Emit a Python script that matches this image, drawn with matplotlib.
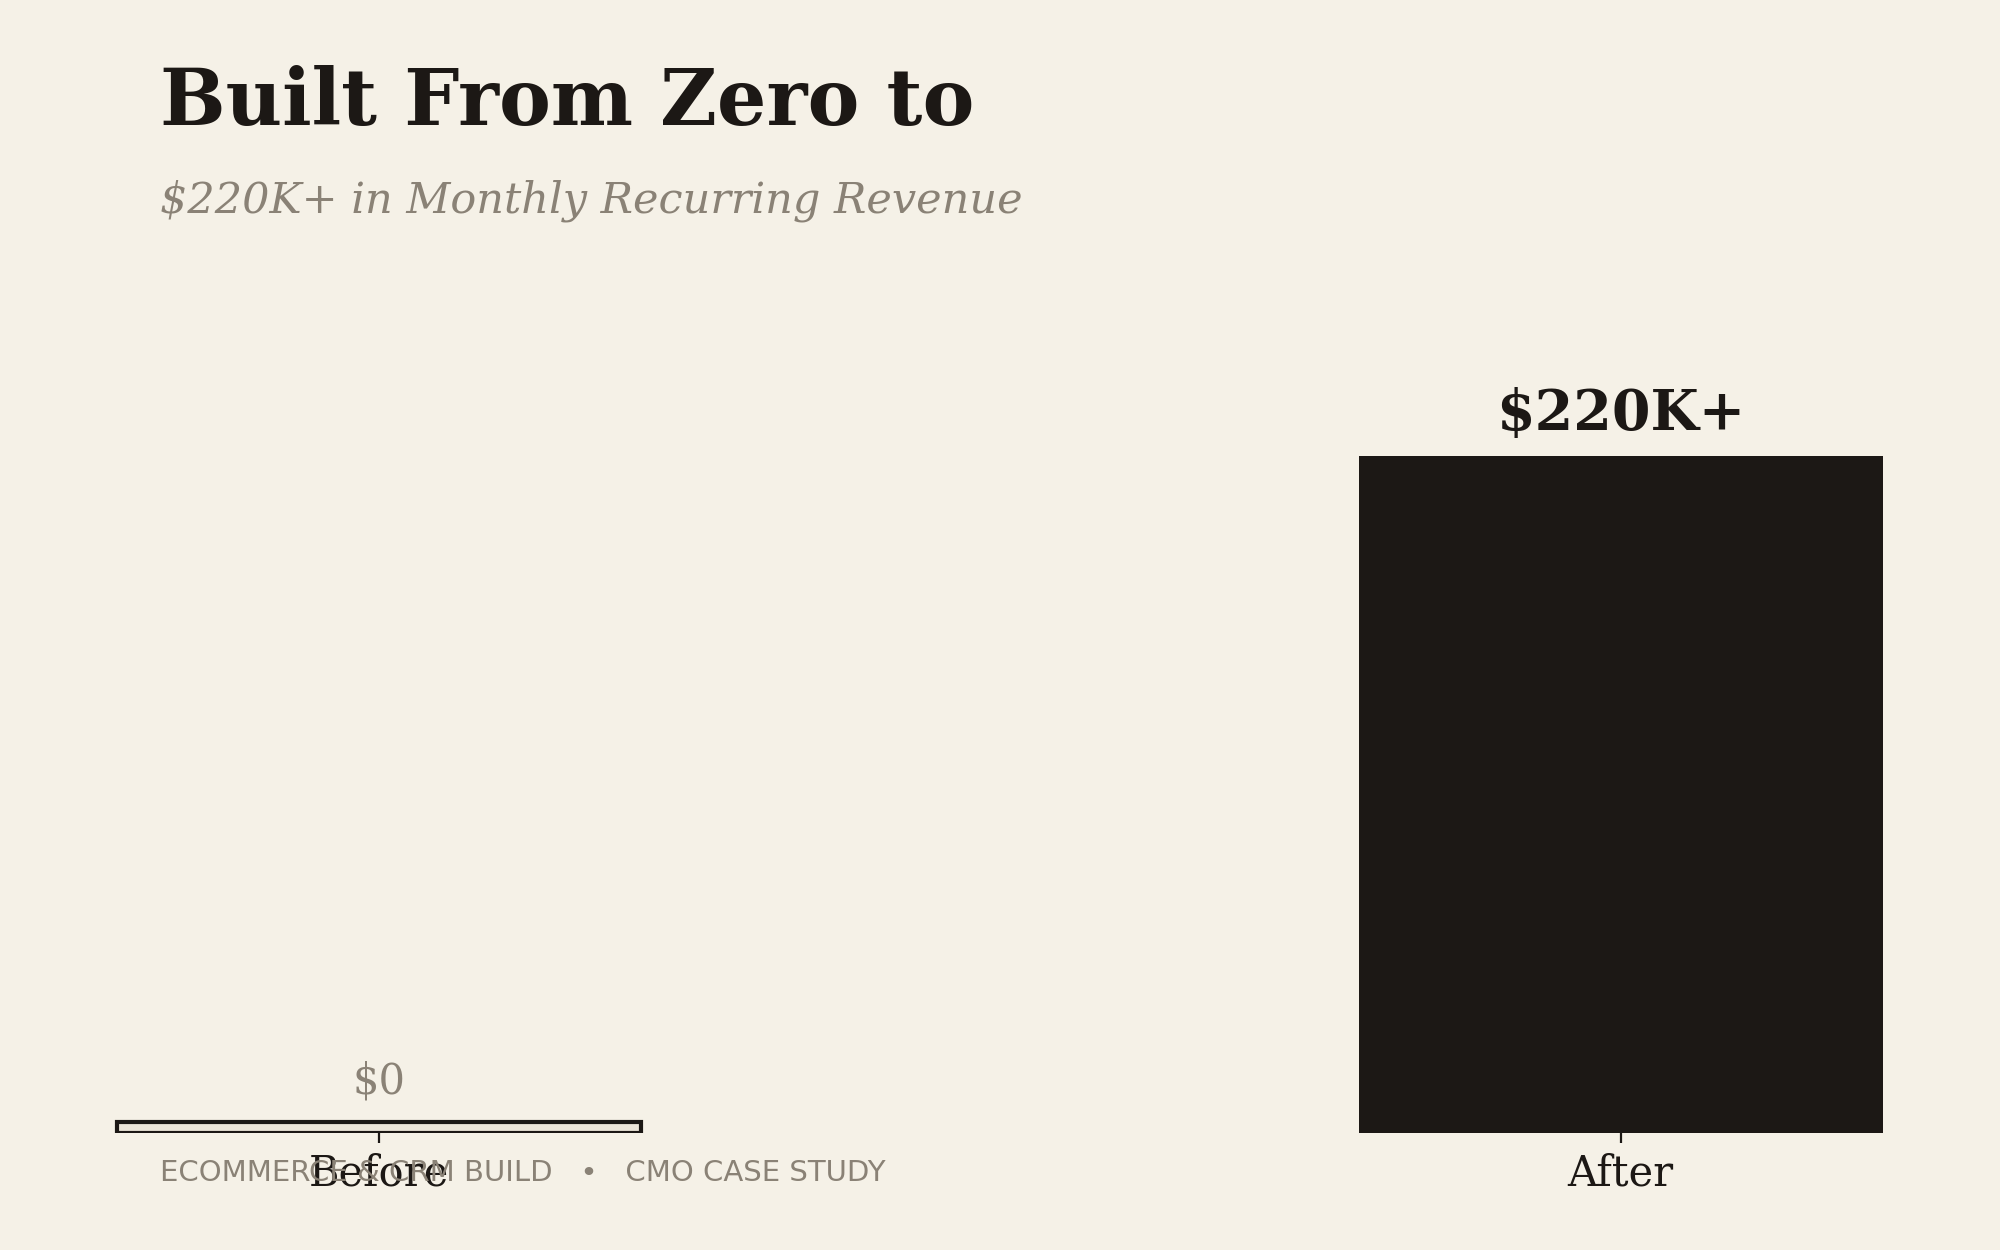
import matplotlib
matplotlib.use("Agg")
import matplotlib.pyplot as plt

# data
stages = ["Before", "After"]
bar_heights = [3.5, 220]          # "before" drawn as a thin sliver
value_labels = ["$0", "$220K+"]

BG = "#f5f1e7"
INK = "#1c1815"
MUTED = "#8a8276"
PALE = "#ece5d9"

fig = plt.figure(figsize=(10, 6.25), dpi=200, facecolor=BG)
ax = fig.add_axes([0.0148, 0.0936, 0.97, 0.65])
ax.set_facecolor(BG)

x = range(len(stages))
bars = ax.bar(x, bar_heights, width=0.422,
              color=[PALE, INK], edgecolor=[INK, INK], linewidth=[1.5, 0])

ax.set_xlim(-0.281, 1.281)
ax.set_ylim(0, 264)
ax.set_xticks(list(x))
ax.set_xticklabels(stages, family="DejaVu Serif", fontsize=15, color=INK)
ax.tick_params(axis="x", colors=INK, labelcolor=INK)
ax.set_yticks([])
for s in ax.spines.values():
    s.set_visible(False)

# value labels
ax.annotate(value_labels[0], (0, bar_heights[0]), xytext=(0, 7), textcoords="offset points",
            ha="center", va="bottom", family="DejaVu Serif", fontsize=15, color=MUTED)
ax.annotate(value_labels[1], (1, bar_heights[1]), xytext=(0, 5), textcoords="offset points",
            ha="center", va="bottom", family="DejaVu Serif", fontsize=20, fontweight="bold", color=INK)

fig.text(0.08, 0.9, "Built From Zero to", family="DejaVu Serif", fontweight="bold",
         fontsize=28, color=INK, va="baseline")
fig.text(0.08, 0.83, "$220K+ in Monthly Recurring Revenue", family="DejaVu Serif",
         style="italic", fontsize=15.5, color=MUTED, va="baseline")
fig.text(0.08, 0.055, "ECOMMERCE & CRM BUILD   \u2022   CMO CASE STUDY", family="DejaVu Sans",
         fontsize=10.5, color=MUTED, va="baseline")

fig.savefig("out.png", dpi=200, facecolor=BG)
